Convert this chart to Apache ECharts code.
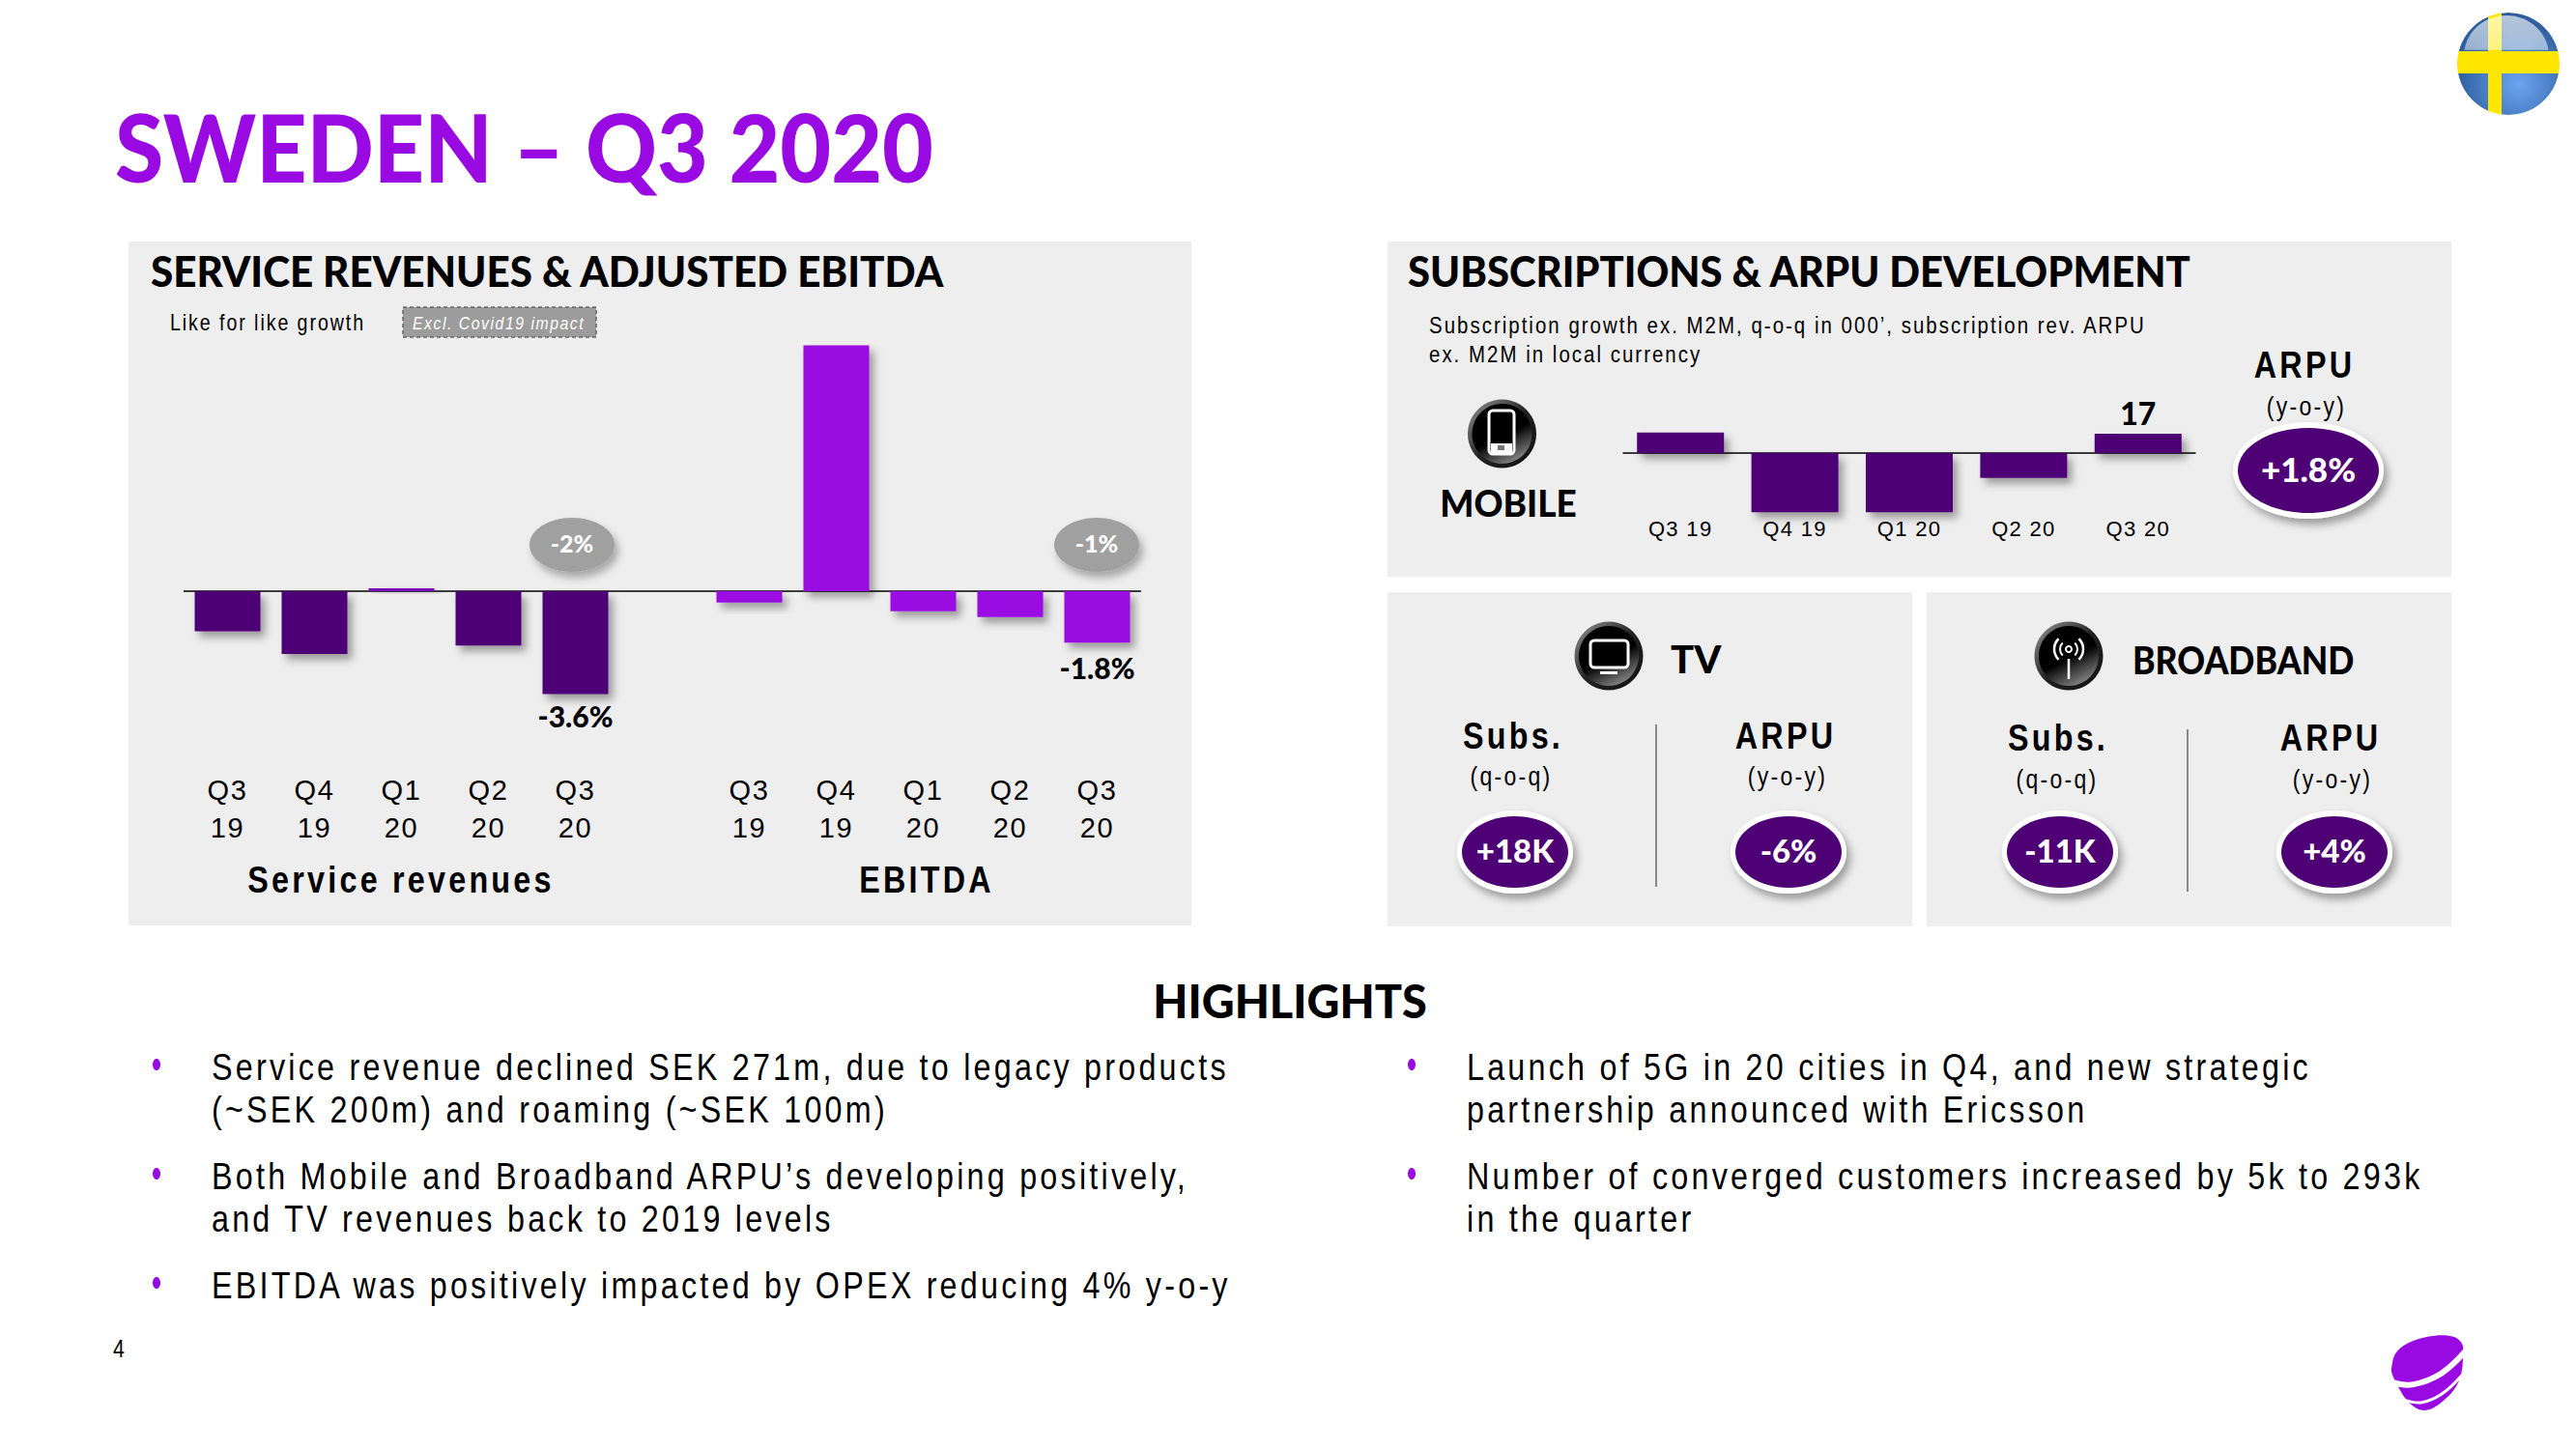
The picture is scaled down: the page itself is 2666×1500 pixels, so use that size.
<!DOCTYPE html>
<html><head><meta charset="utf-8">
<style>
html,body{margin:0;padding:0;background:#fff}
#c{width:2666px;height:1500px}
text[style*="Liberation"]{letter-spacing:.06em}
text[style*="Arial"]{letter-spacing:.1em}
text[style*="Arial"][style*="bold"]{letter-spacing:.1em}
</style>
<script src="https://cdn.jsdelivr.net/npm/echarts@6/dist/echarts.min.js"></script>
</head><body><div id="c"></div>
<script>
const quarterTicks=['Q3\n19','Q4\n19','Q1\n20','Q2\n20','Q3\n20'];
const serviceRevenues=[-1.4,-2.2,0.1,-1.9,-3.6];
const ebitda=[-0.4,8.6,-0.7,-0.9,-1.8];
const mobileTicks=['Q3 19','Q4 19','Q1 20','Q2 20','Q3 20'];
const mobileSubs=[18,-52,-52,-22,17];
const bulletsLeft=[[['Service revenue declined SEK 271m, due to legacy products','(~SEK 200m) and roaming (~SEK 100m)'],1105],[['Both Mobile and Broadband ARPU’s developing positively,','and TV revenues back to 2019 levels'],1218],[['EBITDA was positively impacted by OPEX reducing 4% y-o-y'],1331]];
const bulletsRight=[[['Launch of 5G in 20 cities in Q4, and new strategic','partnership announced with Ericsson'],1105],[['Number of converged customers increased by 5k to 293k','in the quarter'],1218]];

const PURPLE='#990AE3',DARK='#4E0174',PANEL='#EEEEEE';
const HEAD='Lato',BODY='"Liberation Sans", Arial';
const g=[];
function txt(x,y,text,size,o={}){const family=o.family||BODY;g.push({type:'text',z:o.z||6,silent:true,x,y,scaleX:o.sx||(family===BODY?.85:1),originX:0,originY:0,style:{text,fontSize:size,fontFamily:family,fontWeight:o.weight||'normal',fontStyle:o.style||'normal',fill:o.fill||'#000',textAlign:o.align||'left',textVerticalAlign:'middle'}});}
function head(x,y,text,size,o={}){txt(x,y-2,text,size,Object.assign({family:HEAD,weight:900},o));}
function rect(x,y,w,h,fill,o={}){g.push({type:'rect',z:o.z||0,silent:true,shape:{x,y,width:w,height:h,r:o.r||0},style:Object.assign({fill},o.style||{})});}
function line(x1,y1,x2,y2,stroke,w,z){g.push({type:'line',z:z||1,silent:true,shape:{x1,y1,x2,y2},style:{stroke,lineWidth:w}});}
function pill(cx,cy,rx,ry,label,size){
 g.push({type:'ellipse',z:3,silent:true,shape:{cx,cy,rx,ry},style:{fill:'#fff',shadowBlur:9,shadowOffsetX:4,shadowOffsetY:6,shadowColor:'rgba(0,0,0,.35)'}});
 g.push({type:'ellipse',z:4,silent:true,shape:{cx,cy,rx:rx-5,ry:ry-6},style:{fill:DARK}});
 head(cx,cy,label,size,{fill:'#fff',align:'center'});
}
function greyPill(cx,cy,label){
 g.push({type:'ellipse',z:3,silent:true,shape:{cx,cy,rx:44,ry:28},style:{fill:'#A0A0A0',shadowBlur:9,shadowOffsetX:4,shadowOffsetY:6,shadowColor:'rgba(0,0,0,.3)'}});
 head(cx,cy,label,25,{fill:'#fff',align:'center'});
}
function iconBase(cx,cy){
 g.push({type:'circle',z:3,silent:true,shape:{cx,cy,r:35.5},style:{fill:{type:'linear',x:0,y:0,x2:1,y2:1,colorStops:[{offset:0,color:'#999'},{offset:.5,color:'#222'},{offset:1,color:'#111'}]}}});
 g.push({type:'circle',z:3,silent:true,shape:{cx,cy,r:31},style:{fill:{type:'linear',x:.2,y:0,x2:.7,y2:1,colorStops:[{offset:0,color:'#000'},{offset:.55,color:'#000'},{offset:1,color:'#8a8a8a'}]}}});
}
// panels
rect(133,250,1100,708,PANEL);
rect(1436,250,1101,347,PANEL);
rect(1436,613,543,346,PANEL);
rect(1994,613,543,346,PANEL);

// title
head(119,153,'SWEDEN – Q3 2020',97,{fill:PURPLE,sx:.94});
head(156,282,'SERVICE REVENUES & ADJUSTED EBITDA',44,{sx:.958});
head(1457,282,'SUBSCRIPTIONS & ARPU DEVELOPMENT',44,{sx:.95});

// left panel annotations
txt(176,334,'Like for like growth',23);
rect(417,318,200,31,'#9C9C9C',{z:1,style:{stroke:'#666',lineWidth:1.5,lineDash:[4,3]}});
txt(427,335,'Excl. Covid19 impact',18.5,{fill:'#fff',style:'italic'});
greyPill(592,564,'-2%');
greyPill(1135,564,'-1%');
txt(415,911,'Service revenues',38,{weight:'bold',align:'center'});
txt(959,911,'EBITDA',38,{weight:'bold',align:'center'});

// mobile
txt(1479,337,'Subscription growth ex. M2M, q-o-q in 000’, subscription rev. ARPU',24);
txt(1479,367,'ex. M2M in local currency',24);
iconBase(1554.5,449);
rect(1541,425,26,45,'#000',{z:4,r:4,style:{stroke:'#fff',lineWidth:3}});
rect(1543,459,22,10,'#fff',{z:4});
rect(1550,461,7,5,'#777',{z:5});
head(1561,522,'MOBILE',37);
g[g.length-1].style.textAlign='center';
txt(2385,378,'ARPU',38,{weight:'bold',align:'center'});
txt(2387,420,'(y-o-y)',27,{align:'center'});
pill(2389,487,78,50,'+1.8%',35);

// TV
iconBase(1665,679);
rect(1646,663,39,28,'#000',{z:4,r:4,style:{stroke:'#fff',lineWidth:3}});
rect(1656,695,18,3,'#fff',{z:4});
head(1729,684,'TV',40);
txt(1566,762,'Subs.',38,{weight:'bold',align:'center'});
txt(1848,762,'ARPU',38,{weight:'bold',align:'center'});
txt(1564,803,'(q-o-q)',27,{align:'center'});
txt(1850,803,'(y-o-y)',27,{align:'center'});
line(1714,750,1714,918,'#888',2);
pill(1568,882,60,43,'+18K',33);
pill(1851,882,60,43,'-6%',33);

// Broadband
iconBase(2141,679);
line(2141,682,2141,703,'#fff',2.5,4);
g.push({type:'circle',z:4,silent:true,shape:{cx:2141,cy:672,r:3},style:{fill:'#000',stroke:'#fff',lineWidth:2}});
[[9,2],[15,2.5]].forEach(([r,w])=>{[[-0.8,0.8],[Math.PI-0.8,Math.PI+0.8]].forEach(([a,b])=>{
 g.push({type:'arc',z:4,silent:true,shape:{cx:2141,cy:672,r,startAngle:a,endAngle:b},style:{stroke:'#fff',fill:'none',lineWidth:w}});
});});
head(2207,685,'BROADBAND',40,{sx:.89});
txt(2130,764,'Subs.',38,{weight:'bold',align:'center'});
txt(2412,764,'ARPU',38,{weight:'bold',align:'center'});
txt(2129,806,'(q-o-q)',27,{align:'center'});
txt(2414,806,'(y-o-y)',27,{align:'center'});
line(2264,755,2264,923,'#888',2);
pill(2132,882,60,43,'-11K',33);
pill(2416,882,60,43,'+4%',33);

// highlights
head(1335,1037,'HIGHLIGHTS',48,{align:'center',sx:.976});
function bullets(list,bx,tx){list.forEach(([lines,y])=>{
 g.push({type:'ellipse',z:2,silent:true,shape:{cx:bx,cy:y-3,rx:4,ry:6},style:{fill:PURPLE}});
 lines.forEach((l,i)=>txt(tx,y+i*44,l,38));
});}
bullets(bulletsLeft,162,219);
bullets(bulletsRight,1461,1518);
txt(124,1396,'4',25,{align:'center'});

// flag
const fx=2596,fy=66,fr=53;
g.push({type:'circle',z:1,silent:true,shape:{cx:fx,cy:fy,r:fr},style:{fill:{type:'radial',x:.6,y:.7,r:.6,colorStops:[{offset:0,color:'#6AA5F2'},{offset:1,color:'#2F5F9E'}]},shadowBlur:5,shadowOffsetX:2,shadowOffsetY:2,shadowColor:'rgba(0,0,0,.45)'}});
rect(2575,5,14,122,'#FFE600',{z:2});
rect(2535,53,122,23,'#FFE600',{z:2});
g.push({type:'ellipse',z:2,silent:true,shape:{cx:2594,cy:58,rx:44,ry:42},style:{fill:{type:'linear',x:0,y:0,x2:0,y2:1,colorStops:[{offset:0,color:'rgba(255,255,255,.65)'},{offset:.42,color:'rgba(255,255,255,.5)'},{offset:.43,color:'rgba(255,255,255,0)'},{offset:1,color:'rgba(255,255,255,0)'}]}}});
g.push({type:'ring',z:3,silent:true,shape:{cx:fx,cy:fy,r:75,r0:fr},style:{fill:'#fff'}});

// logo
const lp=a=>a.map(([x,y])=>[2440+x/3,1360+y/3]);
g.push({type:'polygon',z:1,silent:true,shape:{smooth:.35,points:lp([[105,170],[120,120],[170,85],[240,68],[300,72],[325,95],[327,130],[322,185],[300,235],[260,275],[220,298],[185,295],[150,265],[125,225],[108,190]])},style:{fill:PURPLE}});
g.push({type:'polyline',z:2,silent:true,shape:{smooth:.4,points:lp([[105,212],[170,220],[260,185],[335,115]])},style:{stroke:'#fff',lineWidth:6,fill:'none'}});
g.push({type:'polyline',z:2,silent:true,shape:{smooth:.4,points:lp([[145,268],[200,275],[260,250],[325,190]])},style:{stroke:'#fff',lineWidth:3,fill:'none'}});

const blanks=n=>Array(n).fill(null);
const endLabel=(v,text,distance)=>({value:v,label:{show:true,position:'bottom',distance,formatter:text,fontFamily:HEAD,fontWeight:900,fontSize:30,color:'#000'}});
const srData=serviceRevenues.map((v,i)=>i===4?endLabel(v,'-3.6%',7):(v>0?{value:v,itemStyle:{color:'#7A0AB8'}}:v));
const ebData=ebitda.map((v,i)=>i===4?endLabel(v,'-1.8%',11):v);
const subsData=mobileSubs.map((v,i)=>i===4?{value:v,label:{show:true,position:'top',distance:5,formatter:'17',fontFamily:HEAD,fontWeight:900,fontSize:32,color:'#000'}}:v);
const shadow={shadowBlur:8,shadowOffsetX:5,shadowOffsetY:6,shadowColor:'rgba(0,0,0,.35)'};

const chart=echarts.init(document.getElementById('c'),null,{renderer:'svg',width:2666,height:1500});
chart.setOption({
 animation:false,
 backgroundColor:'#fff',
 graphic:{elements:g},
 grid:[
  {left:190.5,width:990,top:345.6,height:384.8,containLabel:false},
  {left:1680,width:592,top:433.7,height:98.8,containLabel:false}
 ],
 xAxis:[
  {type:'category',gridIndex:0,data:[...quarterTicks,'',...quarterTicks],axisLine:{onZero:true,lineStyle:{color:'#000',width:1.5}},axisTick:{show:false},axisLabel:{interval:0,margin:68,fontFamily:'Liberation Sans',fontSize:29,lineHeight:39,color:'#000',align:'center'}},
  {type:'category',gridIndex:1,data:mobileTicks,axisLine:{onZero:true,lineStyle:{color:'#000',width:1.5}},axisTick:{show:false},axisLabel:{interval:0,margin:4,fontFamily:'Liberation Sans',fontSize:22,color:'#000'}}
 ],
 yAxis:[
  {type:'value',gridIndex:0,min:-4,max:9,interval:1,show:false,splitLine:{show:false}},
  {type:'value',gridIndex:1,min:-54,max:30,interval:6,show:false,splitLine:{show:false}}
 ],
 series:[
  {type:'bar',name:'Service revenues',xAxisIndex:0,yAxisIndex:0,barWidth:68,barGap:'-100%',z:2,data:[...srData,...blanks(6)],itemStyle:Object.assign({color:DARK},shadow)},
  {type:'bar',name:'EBITDA',xAxisIndex:0,yAxisIndex:0,barWidth:68,barGap:'-100%',z:2,data:[...blanks(6),...ebData],itemStyle:Object.assign({color:PURPLE},shadow)},
  {type:'bar',name:'Mobile subscriptions',xAxisIndex:1,yAxisIndex:1,barWidth:90,z:2,data:subsData,itemStyle:Object.assign({color:DARK},shadow)}
 ]
});
</script></body></html>
